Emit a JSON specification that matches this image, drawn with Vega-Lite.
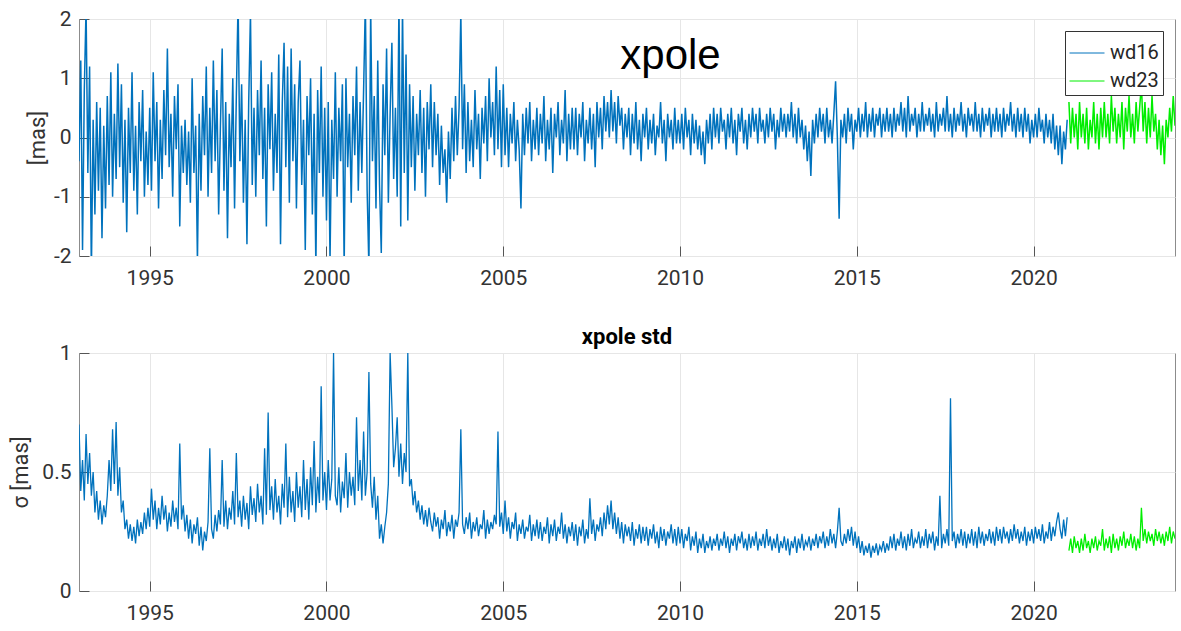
{
"$schema": "https://vega.github.io/schema/vega-lite/v6.json",
"background": "white",
"padding": {"left": 8, "top": 7, "right": 5, "bottom": 5},
"spacing": 36,
"config": {
  "font": "Roboto",
  "view": {"stroke": "#8c8c8c", "strokeWidth": 1},
  "axis": {"labelFont": "Roboto", "labelFontSize": 21, "labelColor": "#333333", "titleFont": "Roboto", "titleFontSize": 22, "titleFontWeight": "normal", "titleColor": "#333333", "grid": true, "gridColor": "#e6e6e6", "domain": false, "ticks": true, "tickColor": "#555555", "tickSize": -10, "labelPadding": 18},
  "axisX": {"labelPadding": 21}
},
"data": {"values": [
{"t":1993.00,"x":-0.4,"s":0.70,"m":"wd16"},{"t":1993.05,"x":1.3,"s":0.42,"m":"wd16"},{"t":1993.10,"x":-1.9,"s":0.55,"m":"wd16"},{"t":1993.15,"x":0.8,"s":0.38,"m":"wd16"},{"t":1993.20,"x":2.2,"s":0.66,"m":"wd16"},{"t":1993.25,"x":-0.6,"s":0.45,"m":"wd16"},{"t":1993.30,"x":1.2,"s":0.58,"m":"wd16"},{"t":1993.35,"x":-2.3,"s":0.40,"m":"wd16"},{"t":1993.40,"x":0.3,"s":0.50,"m":"wd16"},{"t":1993.45,"x":-1.3,"s":0.33,"m":"wd16"},{"t":1993.50,"x":0.6,"s":0.42,"m":"wd16"},{"t":1993.55,"x":-0.9,"s":0.30,"m":"wd16"},{"t":1993.60,"x":0.5,"s":0.38,"m":"wd16"},{"t":1993.65,"x":-1.7,"s":0.28,"m":"wd16"},{"t":1993.70,"x":0.2,"s":0.36,"m":"wd16"},{"t":1993.75,"x":-1.2,"s":0.31,"m":"wd16"},{"t":1993.80,"x":0.7,"s":0.40,"m":"wd16"},{"t":1993.85,"x":-0.8,"s":0.55,"m":"wd16"},{"t":1993.90,"x":1.1,"s":0.42,"m":"wd16"},{"t":1993.95,"x":-1.0,"s":0.68,"m":"wd16"},
{"t":1994.00,"x":0.4,"s":0.45,"m":"wd16"},{"t":1994.05,"x":-0.7,"s":0.71,"m":"wd16"},{"t":1994.10,"x":1.25,"s":0.40,"m":"wd16"},{"t":1994.15,"x":-0.5,"s":0.52,"m":"wd16"},{"t":1994.20,"x":0.9,"s":0.33,"m":"wd16"},{"t":1994.25,"x":-1.1,"s":0.38,"m":"wd16"},{"t":1994.30,"x":0.3,"s":0.26,"m":"wd16"},{"t":1994.35,"x":-1.6,"s":0.30,"m":"wd16"},{"t":1994.40,"x":0.5,"s":0.22,"m":"wd16"},{"t":1994.45,"x":-0.6,"s":0.28,"m":"wd16"},{"t":1994.50,"x":1.1,"s":0.21,"m":"wd16"},{"t":1994.55,"x":-0.9,"s":0.27,"m":"wd16"},{"t":1994.60,"x":0.2,"s":0.20,"m":"wd16"},{"t":1994.65,"x":-1.3,"s":0.30,"m":"wd16"},{"t":1994.70,"x":0.6,"s":0.23,"m":"wd16"},{"t":1994.75,"x":-0.4,"s":0.29,"m":"wd16"},{"t":1994.80,"x":0.8,"s":0.24,"m":"wd16"},{"t":1994.85,"x":-1.0,"s":0.33,"m":"wd16"},{"t":1994.90,"x":0.1,"s":0.26,"m":"wd16"},{"t":1994.95,"x":-0.8,"s":0.35,"m":"wd16"},
{"t":1995.00,"x":0.5,"s":0.27,"m":"wd16"},{"t":1995.05,"x":-0.9,"s":0.43,"m":"wd16"},{"t":1995.10,"x":1.1,"s":0.30,"m":"wd16"},{"t":1995.15,"x":-0.4,"s":0.38,"m":"wd16"},{"t":1995.20,"x":0.6,"s":0.26,"m":"wd16"},{"t":1995.25,"x":-1.2,"s":0.35,"m":"wd16"},{"t":1995.30,"x":0.3,"s":0.28,"m":"wd16"},{"t":1995.35,"x":-0.7,"s":0.40,"m":"wd16"},{"t":1995.40,"x":0.8,"s":0.30,"m":"wd16"},{"t":1995.45,"x":-0.3,"s":0.36,"m":"wd16"},{"t":1995.50,"x":1.5,"s":0.25,"m":"wd16"},{"t":1995.55,"x":-0.5,"s":0.33,"m":"wd16"},{"t":1995.60,"x":0.4,"s":0.27,"m":"wd16"},{"t":1995.65,"x":-1.0,"s":0.38,"m":"wd16"},{"t":1995.70,"x":0.7,"s":0.29,"m":"wd16"},{"t":1995.75,"x":-0.2,"s":0.35,"m":"wd16"},{"t":1995.80,"x":0.9,"s":0.26,"m":"wd16"},{"t":1995.85,"x":-1.5,"s":0.62,"m":"wd16"},{"t":1995.90,"x":0.2,"s":0.30,"m":"wd16"},{"t":1995.95,"x":-0.6,"s":0.36,"m":"wd16"},
{"t":1996.00,"x":0.3,"s":0.25,"m":"wd16"},{"t":1996.05,"x":-0.8,"s":0.32,"m":"wd16"},{"t":1996.10,"x":0.1,"s":0.22,"m":"wd16"},{"t":1996.15,"x":-1.1,"s":0.30,"m":"wd16"},{"t":1996.20,"x":1.0,"s":0.20,"m":"wd16"},{"t":1996.25,"x":-0.6,"s":0.28,"m":"wd16"},{"t":1996.30,"x":0.2,"s":0.24,"m":"wd16"},{"t":1996.35,"x":-2.1,"s":0.31,"m":"wd16"},{"t":1996.40,"x":0.4,"s":0.19,"m":"wd16"},{"t":1996.45,"x":-0.9,"s":0.27,"m":"wd16"},{"t":1996.50,"x":0.7,"s":0.17,"m":"wd16"},{"t":1996.55,"x":-0.3,"s":0.25,"m":"wd16"},{"t":1996.60,"x":1.2,"s":0.21,"m":"wd16"},{"t":1996.65,"x":-1.0,"s":0.29,"m":"wd16"},{"t":1996.70,"x":0.5,"s":0.60,"m":"wd16"},{"t":1996.75,"x":-0.6,"s":0.26,"m":"wd16"},{"t":1996.80,"x":1.3,"s":0.22,"m":"wd16"},{"t":1996.85,"x":-0.4,"s":0.32,"m":"wd16"},{"t":1996.90,"x":0.8,"s":0.25,"m":"wd16"},{"t":1996.95,"x":-1.3,"s":0.34,"m":"wd16"},
{"t":1997.00,"x":0.2,"s":0.28,"m":"wd16"},{"t":1997.05,"x":1.5,"s":0.55,"m":"wd16"},{"t":1997.10,"x":-0.9,"s":0.27,"m":"wd16"},{"t":1997.15,"x":0.6,"s":0.38,"m":"wd16"},{"t":1997.20,"x":-1.7,"s":0.26,"m":"wd16"},{"t":1997.25,"x":0.4,"s":0.35,"m":"wd16"},{"t":1997.30,"x":-0.5,"s":0.30,"m":"wd16"},{"t":1997.35,"x":1.0,"s":0.42,"m":"wd16"},{"t":1997.40,"x":-1.2,"s":0.28,"m":"wd16"},{"t":1997.45,"x":0.7,"s":0.58,"m":"wd16"},{"t":1997.50,"x":2.3,"s":0.31,"m":"wd16"},{"t":1997.55,"x":-0.4,"s":0.38,"m":"wd16"},{"t":1997.60,"x":0.9,"s":0.27,"m":"wd16"},{"t":1997.65,"x":-1.1,"s":0.40,"m":"wd16"},{"t":1997.70,"x":0.3,"s":0.30,"m":"wd16"},{"t":1997.75,"x":-1.8,"s":0.37,"m":"wd16"},{"t":1997.80,"x":0.6,"s":0.26,"m":"wd16"},{"t":1997.85,"x":2.1,"s":0.44,"m":"wd16"},{"t":1997.90,"x":-0.8,"s":0.32,"m":"wd16"},{"t":1997.95,"x":0.5,"s":0.39,"m":"wd16"},
{"t":1998.00,"x":-1.0,"s":0.29,"m":"wd16"},{"t":1998.05,"x":0.8,"s":0.45,"m":"wd16"},{"t":1998.10,"x":-0.3,"s":0.33,"m":"wd16"},{"t":1998.15,"x":1.3,"s":0.40,"m":"wd16"},{"t":1998.20,"x":-0.7,"s":0.28,"m":"wd16"},{"t":1998.25,"x":0.5,"s":0.60,"m":"wd16"},{"t":1998.30,"x":-1.5,"s":0.32,"m":"wd16"},{"t":1998.35,"x":0.9,"s":0.75,"m":"wd16"},{"t":1998.40,"x":-0.2,"s":0.34,"m":"wd16"},{"t":1998.45,"x":1.1,"s":0.44,"m":"wd16"},{"t":1998.50,"x":-0.9,"s":0.30,"m":"wd16"},{"t":1998.55,"x":0.4,"s":0.47,"m":"wd16"},{"t":1998.60,"x":-0.6,"s":0.33,"m":"wd16"},{"t":1998.65,"x":1.4,"s":0.40,"m":"wd16"},{"t":1998.70,"x":-1.8,"s":0.28,"m":"wd16"},{"t":1998.75,"x":0.6,"s":0.45,"m":"wd16"},{"t":1998.80,"x":1.6,"s":0.35,"m":"wd16"},{"t":1998.85,"x":-0.5,"s":0.62,"m":"wd16"},{"t":1998.90,"x":1.2,"s":0.31,"m":"wd16"},{"t":1998.95,"x":-1.1,"s":0.48,"m":"wd16"},
{"t":1999.00,"x":1.5,"s":0.33,"m":"wd16"},{"t":1999.05,"x":-0.4,"s":0.42,"m":"wd16"},{"t":1999.10,"x":0.9,"s":0.29,"m":"wd16"},{"t":1999.15,"x":-1.2,"s":0.50,"m":"wd16"},{"t":1999.20,"x":0.6,"s":0.35,"m":"wd16"},{"t":1999.25,"x":1.3,"s":0.44,"m":"wd16"},{"t":1999.30,"x":-0.8,"s":0.31,"m":"wd16"},{"t":1999.35,"x":0.3,"s":0.55,"m":"wd16"},{"t":1999.40,"x":-1.9,"s":0.34,"m":"wd16"},{"t":1999.45,"x":0.7,"s":0.47,"m":"wd16"},{"t":1999.50,"x":-0.3,"s":0.30,"m":"wd16"},{"t":1999.55,"x":1.0,"s":0.52,"m":"wd16"},{"t":1999.60,"x":-1.3,"s":0.36,"m":"wd16"},{"t":1999.65,"x":0.4,"s":0.63,"m":"wd16"},{"t":1999.70,"x":-2.2,"s":0.33,"m":"wd16"},{"t":1999.75,"x":0.8,"s":0.48,"m":"wd16"},{"t":1999.80,"x":-0.6,"s":0.37,"m":"wd16"},{"t":1999.85,"x":1.2,"s":0.86,"m":"wd16"},{"t":1999.90,"x":-1.0,"s":0.38,"m":"wd16"},{"t":1999.95,"x":0.5,"s":0.50,"m":"wd16"},
{"t":2000.00,"x":-1.4,"s":0.34,"m":"wd16"},{"t":2000.05,"x":0.6,"s":0.55,"m":"wd16"},{"t":2000.10,"x":-2.1,"s":0.38,"m":"wd16"},{"t":2000.15,"x":0.3,"s":0.47,"m":"wd16"},{"t":2000.20,"x":-0.7,"s":1.0,"m":"wd16"},{"t":2000.25,"x":1.1,"s":0.40,"m":"wd16"},{"t":2000.30,"x":-1.0,"s":0.36,"m":"wd16"},{"t":2000.35,"x":0.5,"s":0.52,"m":"wd16"},{"t":2000.40,"x":-0.4,"s":0.33,"m":"wd16"},{"t":2000.45,"x":0.9,"s":0.46,"m":"wd16"},{"t":2000.50,"x":-2.2,"s":0.39,"m":"wd16"},{"t":2000.55,"x":1.0,"s":0.58,"m":"wd16"},{"t":2000.60,"x":-0.5,"s":0.35,"m":"wd16"},{"t":2000.65,"x":0.4,"s":0.50,"m":"wd16"},{"t":2000.70,"x":-1.1,"s":0.40,"m":"wd16"},{"t":2000.75,"x":0.7,"s":0.48,"m":"wd16"},{"t":2000.80,"x":-0.3,"s":0.36,"m":"wd16"},{"t":2000.85,"x":1.2,"s":0.73,"m":"wd16"},{"t":2000.90,"x":-0.9,"s":0.42,"m":"wd16"},{"t":2000.95,"x":0.6,"s":0.55,"m":"wd16"},
{"t":2001.00,"x":-0.6,"s":0.38,"m":"wd16"},{"t":2001.05,"x":0.8,"s":0.67,"m":"wd16"},{"t":2001.10,"x":2.3,"s":0.40,"m":"wd16"},{"t":2001.15,"x":-0.9,"s":0.50,"m":"wd16"},{"t":2001.20,"x":-2.2,"s":0.92,"m":"wd16"},{"t":2001.25,"x":2.2,"s":0.45,"m":"wd16"},{"t":2001.30,"x":-0.4,"s":0.35,"m":"wd16"},{"t":2001.35,"x":0.7,"s":0.48,"m":"wd16"},{"t":2001.40,"x":-1.2,"s":0.30,"m":"wd16"},{"t":2001.45,"x":1.3,"s":0.40,"m":"wd16"},{"t":2001.50,"x":-0.8,"s":0.22,"m":"wd16"},{"t":2001.55,"x":-1.95,"s":0.28,"m":"wd16"},{"t":2001.60,"x":0.9,"s":0.20,"m":"wd16"},{"t":2001.65,"x":-0.3,"s":0.27,"m":"wd16"},{"t":2001.70,"x":1.5,"s":0.33,"m":"wd16"},{"t":2001.75,"x":-1.1,"s":0.45,"m":"wd16"},{"t":2001.80,"x":0.4,"s":1.0,"m":"wd16"},{"t":2001.85,"x":1.6,"s":0.78,"m":"wd16"},{"t":2001.90,"x":-0.7,"s":0.52,"m":"wd16"},{"t":2001.95,"x":0.5,"s":0.60,"m":"wd16"},
{"t":2002.00,"x":-1.0,"s":0.73,"m":"wd16"},{"t":2002.05,"x":2.3,"s":0.48,"m":"wd16"},{"t":2002.10,"x":-1.5,"s":0.62,"m":"wd16"},{"t":2002.15,"x":2.2,"s":0.45,"m":"wd16"},{"t":2002.20,"x":-0.6,"s":0.58,"m":"wd16"},{"t":2002.25,"x":1.4,"s":0.50,"m":"wd16"},{"t":2002.30,"x":-1.4,"s":1.0,"m":"wd16"},{"t":2002.35,"x":0.9,"s":0.44,"m":"wd16"},{"t":2002.40,"x":-0.5,"s":0.47,"m":"wd16"},{"t":2002.45,"x":0.7,"s":0.36,"m":"wd16"},{"t":2002.50,"x":-0.9,"s":0.42,"m":"wd16"},{"t":2002.55,"x":0.4,"s":0.33,"m":"wd16"},{"t":2002.60,"x":-0.3,"s":0.38,"m":"wd16"},{"t":2002.65,"x":0.8,"s":0.30,"m":"wd16"},{"t":2002.70,"x":-0.6,"s":0.36,"m":"wd16"},{"t":2002.75,"x":0.5,"s":0.28,"m":"wd16"},{"t":2002.80,"x":-1.0,"s":0.34,"m":"wd16"},{"t":2002.85,"x":0.6,"s":0.27,"m":"wd16"},{"t":2002.90,"x":-0.2,"s":0.35,"m":"wd16"},{"t":2002.95,"x":0.9,"s":0.29,"m":"wd16"},
{"t":2003.00,"x":-0.5,"s":0.25,"m":"wd16"},{"t":2003.05,"x":0.6,"s":0.33,"m":"wd16"},{"t":2003.10,"x":-0.3,"s":0.27,"m":"wd16"},{"t":2003.15,"x":0.4,"s":0.31,"m":"wd16"},{"t":2003.20,"x":-0.8,"s":0.22,"m":"wd16"},{"t":2003.25,"x":0.2,"s":0.30,"m":"wd16"},{"t":2003.30,"x":-0.6,"s":0.26,"m":"wd16"},{"t":2003.35,"x":-0.2,"s":0.34,"m":"wd16"},{"t":2003.40,"x":-1.1,"s":0.23,"m":"wd16"},{"t":2003.45,"x":0.1,"s":0.29,"m":"wd16"},{"t":2003.50,"x":-0.7,"s":0.25,"m":"wd16"},{"t":2003.55,"x":0.5,"s":0.32,"m":"wd16"},{"t":2003.60,"x":-0.4,"s":0.22,"m":"wd16"},{"t":2003.65,"x":0.7,"s":0.30,"m":"wd16"},{"t":2003.70,"x":-0.3,"s":0.27,"m":"wd16"},{"t":2003.75,"x":0.5,"s":0.33,"m":"wd16"},{"t":2003.80,"x":2.1,"s":0.68,"m":"wd16"},{"t":2003.85,"x":-0.2,"s":0.28,"m":"wd16"},{"t":2003.90,"x":0.9,"s":0.24,"m":"wd16"},{"t":2003.95,"x":-0.6,"s":0.31,"m":"wd16"},
{"t":2004.00,"x":0.6,"s":0.26,"m":"wd16"},{"t":2004.05,"x":-0.4,"s":0.33,"m":"wd16"},{"t":2004.10,"x":0.3,"s":0.22,"m":"wd16"},{"t":2004.15,"x":-0.5,"s":0.29,"m":"wd16"},{"t":2004.20,"x":0.8,"s":0.25,"m":"wd16"},{"t":2004.25,"x":-0.2,"s":0.31,"m":"wd16"},{"t":2004.30,"x":0.4,"s":0.23,"m":"wd16"},{"t":2004.35,"x":-0.7,"s":0.28,"m":"wd16"},{"t":2004.40,"x":0.5,"s":0.26,"m":"wd16"},{"t":2004.45,"x":-0.1,"s":0.34,"m":"wd16"},{"t":2004.50,"x":0.7,"s":0.22,"m":"wd16"},{"t":2004.55,"x":-0.4,"s":0.30,"m":"wd16"},{"t":2004.60,"x":1.0,"s":0.24,"m":"wd16"},{"t":2004.65,"x":0.0,"s":0.29,"m":"wd16"},{"t":2004.70,"x":0.6,"s":0.26,"m":"wd16"},{"t":2004.75,"x":-0.3,"s":0.32,"m":"wd16"},{"t":2004.80,"x":1.2,"s":0.28,"m":"wd16"},{"t":2004.85,"x":-0.2,"s":0.67,"m":"wd16"},{"t":2004.90,"x":0.8,"s":0.27,"m":"wd16"},{"t":2004.95,"x":-0.5,"s":0.33,"m":"wd16"},
{"t":2005.00,"x":0.9,"s":0.24,"m":"wd16"},{"t":2005.05,"x":-0.3,"s":0.38,"m":"wd16"},{"t":2005.10,"x":0.5,"s":0.25,"m":"wd16"},{"t":2005.15,"x":-0.5,"s":0.31,"m":"wd16"},{"t":2005.20,"x":0.4,"s":0.22,"m":"wd16"},{"t":2005.25,"x":-0.1,"s":0.29,"m":"wd16"},{"t":2005.30,"x":0.6,"s":0.26,"m":"wd16"},{"t":2005.35,"x":-0.4,"s":0.33,"m":"wd16"},{"t":2005.40,"x":0.3,"s":0.21,"m":"wd16"},{"t":2005.45,"x":-0.2,"s":0.28,"m":"wd16"},{"t":2005.50,"x":-1.2,"s":0.24,"m":"wd16"},{"t":2005.55,"x":0.4,"s":0.30,"m":"wd16"},{"t":2005.60,"x":-0.3,"s":0.22,"m":"wd16"},{"t":2005.65,"x":0.5,"s":0.27,"m":"wd16"},{"t":2005.70,"x":-0.1,"s":0.25,"m":"wd16"},{"t":2005.75,"x":0.6,"s":0.32,"m":"wd16"},{"t":2005.80,"x":-0.4,"s":0.21,"m":"wd16"},{"t":2005.85,"x":0.3,"s":0.28,"m":"wd16"},{"t":2005.90,"x":-0.2,"s":0.23,"m":"wd16"},{"t":2005.95,"x":0.5,"s":0.30,"m":"wd16"},
{"t":2006.00,"x":-0.3,"s":0.22,"m":"wd16"},{"t":2006.05,"x":0.4,"s":0.29,"m":"wd16"},{"t":2006.10,"x":-0.1,"s":0.21,"m":"wd16"},{"t":2006.15,"x":0.7,"s":0.27,"m":"wd16"},{"t":2006.20,"x":-0.4,"s":0.24,"m":"wd16"},{"t":2006.25,"x":0.3,"s":0.31,"m":"wd16"},{"t":2006.30,"x":-0.2,"s":0.20,"m":"wd16"},{"t":2006.35,"x":0.5,"s":0.28,"m":"wd16"},{"t":2006.40,"x":-0.6,"s":0.23,"m":"wd16"},{"t":2006.45,"x":0.4,"s":0.30,"m":"wd16"},{"t":2006.50,"x":0.0,"s":0.21,"m":"wd16"},{"t":2006.55,"x":0.6,"s":0.27,"m":"wd16"},{"t":2006.60,"x":-0.3,"s":0.24,"m":"wd16"},{"t":2006.65,"x":0.3,"s":0.33,"m":"wd16"},{"t":2006.70,"x":-0.1,"s":0.22,"m":"wd16"},{"t":2006.75,"x":0.8,"s":0.28,"m":"wd16"},{"t":2006.80,"x":-0.4,"s":0.20,"m":"wd16"},{"t":2006.85,"x":0.4,"s":0.27,"m":"wd16"},{"t":2006.90,"x":-0.2,"s":0.23,"m":"wd16"},{"t":2006.95,"x":0.5,"s":0.29,"m":"wd16"},
{"t":2007.00,"x":-0.2,"s":0.21,"m":"wd16"},{"t":2007.05,"x":0.5,"s":0.28,"m":"wd16"},{"t":2007.10,"x":-0.3,"s":0.19,"m":"wd16"},{"t":2007.15,"x":0.4,"s":0.27,"m":"wd16"},{"t":2007.20,"x":0.0,"s":0.23,"m":"wd16"},{"t":2007.25,"x":0.6,"s":0.30,"m":"wd16"},{"t":2007.30,"x":-0.4,"s":0.20,"m":"wd16"},{"t":2007.35,"x":0.3,"s":0.26,"m":"wd16"},{"t":2007.40,"x":-0.1,"s":0.22,"m":"wd16"},{"t":2007.45,"x":0.5,"s":0.39,"m":"wd16"},{"t":2007.50,"x":-0.2,"s":0.24,"m":"wd16"},{"t":2007.55,"x":0.4,"s":0.30,"m":"wd16"},{"t":2007.60,"x":-0.5,"s":0.21,"m":"wd16"},{"t":2007.65,"x":0.6,"s":0.28,"m":"wd16"},{"t":2007.70,"x":0.0,"s":0.25,"m":"wd16"},{"t":2007.75,"x":0.5,"s":0.31,"m":"wd16"},{"t":2007.80,"x":-0.2,"s":0.23,"m":"wd16"},{"t":2007.85,"x":0.7,"s":0.33,"m":"wd16"},{"t":2007.90,"x":0.1,"s":0.26,"m":"wd16"},{"t":2007.95,"x":0.6,"s":0.36,"m":"wd16"},
{"t":2008.00,"x":0.0,"s":0.28,"m":"wd16"},{"t":2008.05,"x":0.8,"s":0.38,"m":"wd16"},{"t":2008.10,"x":0.1,"s":0.26,"m":"wd16"},{"t":2008.15,"x":0.6,"s":0.33,"m":"wd16"},{"t":2008.20,"x":-0.1,"s":0.24,"m":"wd16"},{"t":2008.25,"x":0.7,"s":0.31,"m":"wd16"},{"t":2008.30,"x":0.2,"s":0.22,"m":"wd16"},{"t":2008.35,"x":0.5,"s":0.29,"m":"wd16"},{"t":2008.40,"x":-0.2,"s":0.20,"m":"wd16"},{"t":2008.45,"x":0.4,"s":0.28,"m":"wd16"},{"t":2008.50,"x":0.0,"s":0.23,"m":"wd16"},{"t":2008.55,"x":0.5,"s":0.27,"m":"wd16"},{"t":2008.60,"x":-0.3,"s":0.21,"m":"wd16"},{"t":2008.65,"x":0.4,"s":0.29,"m":"wd16"},{"t":2008.70,"x":-0.1,"s":0.19,"m":"wd16"},{"t":2008.75,"x":0.6,"s":0.26,"m":"wd16"},{"t":2008.80,"x":-0.2,"s":0.22,"m":"wd16"},{"t":2008.85,"x":0.3,"s":0.28,"m":"wd16"},{"t":2008.90,"x":-0.4,"s":0.20,"m":"wd16"},{"t":2008.95,"x":0.4,"s":0.27,"m":"wd16"},
{"t":2009.00,"x":0.0,"s":0.21,"m":"wd16"},{"t":2009.05,"x":0.5,"s":0.27,"m":"wd16"},{"t":2009.10,"x":-0.2,"s":0.19,"m":"wd16"},{"t":2009.15,"x":0.3,"s":0.26,"m":"wd16"},{"t":2009.20,"x":-0.1,"s":0.22,"m":"wd16"},{"t":2009.25,"x":0.4,"s":0.28,"m":"wd16"},{"t":2009.30,"x":-0.3,"s":0.20,"m":"wd16"},{"t":2009.35,"x":0.2,"s":0.25,"m":"wd16"},{"t":2009.40,"x":0.0,"s":0.18,"m":"wd16"},{"t":2009.45,"x":0.6,"s":0.27,"m":"wd16"},{"t":2009.50,"x":-0.1,"s":0.21,"m":"wd16"},{"t":2009.55,"x":0.3,"s":0.26,"m":"wd16"},{"t":2009.60,"x":-0.4,"s":0.19,"m":"wd16"},{"t":2009.65,"x":0.4,"s":0.25,"m":"wd16"},{"t":2009.70,"x":0.0,"s":0.22,"m":"wd16"},{"t":2009.75,"x":0.3,"s":0.28,"m":"wd16"},{"t":2009.80,"x":-0.2,"s":0.20,"m":"wd16"},{"t":2009.85,"x":0.5,"s":0.26,"m":"wd16"},{"t":2009.90,"x":-0.1,"s":0.19,"m":"wd16"},{"t":2009.95,"x":0.3,"s":0.27,"m":"wd16"},
{"t":2010.00,"x":-0.1,"s":0.20,"m":"wd16"},{"t":2010.05,"x":0.4,"s":0.26,"m":"wd16"},{"t":2010.10,"x":-0.2,"s":0.18,"m":"wd16"},{"t":2010.15,"x":0.5,"s":0.24,"m":"wd16"},{"t":2010.20,"x":0.0,"s":0.21,"m":"wd16"},{"t":2010.25,"x":0.3,"s":0.27,"m":"wd16"},{"t":2010.30,"x":-0.3,"s":0.17,"m":"wd16"},{"t":2010.35,"x":0.4,"s":0.23,"m":"wd16"},{"t":2010.40,"x":-0.1,"s":0.19,"m":"wd16"},{"t":2010.45,"x":0.3,"s":0.25,"m":"wd16"},{"t":2010.50,"x":-0.2,"s":0.16,"m":"wd16"},{"t":2010.55,"x":0.2,"s":0.22,"m":"wd16"},{"t":2010.60,"x":-0.3,"s":0.18,"m":"wd16"},{"t":2010.65,"x":0.1,"s":0.24,"m":"wd16"},{"t":2010.70,"x":-0.45,"s":0.16,"m":"wd16"},{"t":2010.75,"x":0.3,"s":0.21,"m":"wd16"},{"t":2010.80,"x":-0.1,"s":0.18,"m":"wd16"},{"t":2010.85,"x":0.4,"s":0.23,"m":"wd16"},{"t":2010.90,"x":-0.2,"s":0.17,"m":"wd16"},{"t":2010.95,"x":0.5,"s":0.22,"m":"wd16"},
{"t":2011.00,"x":0.0,"s":0.19,"m":"wd16"},{"t":2011.05,"x":0.4,"s":0.24,"m":"wd16"},{"t":2011.10,"x":-0.1,"s":0.17,"m":"wd16"},{"t":2011.15,"x":0.5,"s":0.22,"m":"wd16"},{"t":2011.20,"x":0.1,"s":0.19,"m":"wd16"},{"t":2011.25,"x":0.3,"s":0.25,"m":"wd16"},{"t":2011.30,"x":-0.2,"s":0.18,"m":"wd16"},{"t":2011.35,"x":0.4,"s":0.23,"m":"wd16"},{"t":2011.40,"x":0.0,"s":0.16,"m":"wd16"},{"t":2011.45,"x":0.5,"s":0.22,"m":"wd16"},{"t":2011.50,"x":-0.1,"s":0.19,"m":"wd16"},{"t":2011.55,"x":0.3,"s":0.24,"m":"wd16"},{"t":2011.60,"x":-0.3,"s":0.17,"m":"wd16"},{"t":2011.65,"x":0.4,"s":0.23,"m":"wd16"},{"t":2011.70,"x":0.1,"s":0.20,"m":"wd16"},{"t":2011.75,"x":0.5,"s":0.25,"m":"wd16"},{"t":2011.80,"x":-0.1,"s":0.18,"m":"wd16"},{"t":2011.85,"x":0.3,"s":0.22,"m":"wd16"},{"t":2011.90,"x":-0.2,"s":0.17,"m":"wd16"},{"t":2011.95,"x":0.4,"s":0.24,"m":"wd16"},
{"t":2012.00,"x":0.0,"s":0.18,"m":"wd16"},{"t":2012.05,"x":0.5,"s":0.23,"m":"wd16"},{"t":2012.10,"x":0.1,"s":0.19,"m":"wd16"},{"t":2012.15,"x":0.4,"s":0.25,"m":"wd16"},{"t":2012.20,"x":-0.1,"s":0.17,"m":"wd16"},{"t":2012.25,"x":0.5,"s":0.22,"m":"wd16"},{"t":2012.30,"x":0.1,"s":0.19,"m":"wd16"},{"t":2012.35,"x":0.3,"s":0.24,"m":"wd16"},{"t":2012.40,"x":-0.1,"s":0.18,"m":"wd16"},{"t":2012.45,"x":0.4,"s":0.26,"m":"wd16"},{"t":2012.50,"x":0.0,"s":0.19,"m":"wd16"},{"t":2012.55,"x":0.5,"s":0.23,"m":"wd16"},{"t":2012.60,"x":0.1,"s":0.17,"m":"wd16"},{"t":2012.65,"x":0.4,"s":0.22,"m":"wd16"},{"t":2012.70,"x":-0.2,"s":0.18,"m":"wd16"},{"t":2012.75,"x":0.3,"s":0.24,"m":"wd16"},{"t":2012.80,"x":0.0,"s":0.16,"m":"wd16"},{"t":2012.85,"x":0.5,"s":0.21,"m":"wd16"},{"t":2012.90,"x":0.1,"s":0.18,"m":"wd16"},{"t":2012.95,"x":0.4,"s":0.23,"m":"wd16"},
{"t":2013.00,"x":0.0,"s":0.17,"m":"wd16"},{"t":2013.05,"x":0.4,"s":0.22,"m":"wd16"},{"t":2013.10,"x":0.1,"s":0.15,"m":"wd16"},{"t":2013.15,"x":0.6,"s":0.21,"m":"wd16"},{"t":2013.20,"x":0.0,"s":0.18,"m":"wd16"},{"t":2013.25,"x":0.4,"s":0.23,"m":"wd16"},{"t":2013.30,"x":-0.1,"s":0.16,"m":"wd16"},{"t":2013.35,"x":0.5,"s":0.22,"m":"wd16"},{"t":2013.40,"x":0.0,"s":0.18,"m":"wd16"},{"t":2013.45,"x":0.3,"s":0.24,"m":"wd16"},{"t":2013.50,"x":-0.2,"s":0.17,"m":"wd16"},{"t":2013.55,"x":0.2,"s":0.21,"m":"wd16"},{"t":2013.60,"x":-0.4,"s":0.19,"m":"wd16"},{"t":2013.65,"x":0.1,"s":0.23,"m":"wd16"},{"t":2013.70,"x":-0.65,"s":0.17,"m":"wd16"},{"t":2013.75,"x":0.3,"s":0.22,"m":"wd16"},{"t":2013.80,"x":-0.1,"s":0.19,"m":"wd16"},{"t":2013.85,"x":0.4,"s":0.24,"m":"wd16"},{"t":2013.90,"x":0.0,"s":0.18,"m":"wd16"},{"t":2013.95,"x":0.5,"s":0.23,"m":"wd16"},
{"t":2014.00,"x":0.1,"s":0.20,"m":"wd16"},{"t":2014.05,"x":0.4,"s":0.25,"m":"wd16"},{"t":2014.10,"x":-0.1,"s":0.18,"m":"wd16"},{"t":2014.15,"x":0.5,"s":0.23,"m":"wd16"},{"t":2014.20,"x":0.0,"s":0.19,"m":"wd16"},{"t":2014.25,"x":0.3,"s":0.26,"m":"wd16"},{"t":2014.30,"x":-0.1,"s":0.20,"m":"wd16"},{"t":2014.35,"x":0.4,"s":0.24,"m":"wd16"},{"t":2014.40,"x":0.95,"s":0.18,"m":"wd16"},{"t":2014.45,"x":0.0,"s":0.25,"m":"wd16"},{"t":2014.50,"x":-1.37,"s":0.35,"m":"wd16"},{"t":2014.55,"x":0.3,"s":0.21,"m":"wd16"},{"t":2014.60,"x":0.0,"s":0.19,"m":"wd16"},{"t":2014.65,"x":0.4,"s":0.24,"m":"wd16"},{"t":2014.70,"x":-0.1,"s":0.20,"m":"wd16"},{"t":2014.75,"x":0.5,"s":0.26,"m":"wd16"},{"t":2014.80,"x":0.1,"s":0.21,"m":"wd16"},{"t":2014.85,"x":0.4,"s":0.27,"m":"wd16"},{"t":2014.90,"x":-0.2,"s":0.19,"m":"wd16"},{"t":2014.95,"x":0.3,"s":0.25,"m":"wd16"},
{"t":2015.00,"x":0.1,"s":0.18,"m":"wd16"},{"t":2015.05,"x":0.5,"s":0.23,"m":"wd16"},{"t":2015.10,"x":0.0,"s":0.16,"m":"wd16"},{"t":2015.15,"x":0.4,"s":0.21,"m":"wd16"},{"t":2015.20,"x":0.1,"s":0.15,"m":"wd16"},{"t":2015.25,"x":0.6,"s":0.19,"m":"wd16"},{"t":2015.30,"x":0.0,"s":0.16,"m":"wd16"},{"t":2015.35,"x":0.4,"s":0.20,"m":"wd16"},{"t":2015.40,"x":0.1,"s":0.14,"m":"wd16"},{"t":2015.45,"x":0.5,"s":0.19,"m":"wd16"},{"t":2015.50,"x":0.0,"s":0.16,"m":"wd16"},{"t":2015.55,"x":0.4,"s":0.20,"m":"wd16"},{"t":2015.60,"x":0.2,"s":0.15,"m":"wd16"},{"t":2015.65,"x":0.5,"s":0.19,"m":"wd16"},{"t":2015.70,"x":0.0,"s":0.17,"m":"wd16"},{"t":2015.75,"x":0.4,"s":0.21,"m":"wd16"},{"t":2015.80,"x":0.1,"s":0.16,"m":"wd16"},{"t":2015.85,"x":0.5,"s":0.20,"m":"wd16"},{"t":2015.90,"x":0.1,"s":0.17,"m":"wd16"},{"t":2015.95,"x":0.4,"s":0.23,"m":"wd16"},
{"t":2016.00,"x":0.0,"s":0.18,"m":"wd16"},{"t":2016.05,"x":0.5,"s":0.24,"m":"wd16"},{"t":2016.10,"x":0.1,"s":0.17,"m":"wd16"},{"t":2016.15,"x":0.4,"s":0.22,"m":"wd16"},{"t":2016.20,"x":0.2,"s":0.19,"m":"wd16"},{"t":2016.25,"x":0.6,"s":0.25,"m":"wd16"},{"t":2016.30,"x":0.1,"s":0.18,"m":"wd16"},{"t":2016.35,"x":0.5,"s":0.23,"m":"wd16"},{"t":2016.40,"x":0.0,"s":0.17,"m":"wd16"},{"t":2016.45,"x":0.7,"s":0.24,"m":"wd16"},{"t":2016.50,"x":0.1,"s":0.19,"m":"wd16"},{"t":2016.55,"x":0.4,"s":0.26,"m":"wd16"},{"t":2016.60,"x":0.2,"s":0.18,"m":"wd16"},{"t":2016.65,"x":0.5,"s":0.22,"m":"wd16"},{"t":2016.70,"x":0.0,"s":0.20,"m":"wd16"},{"t":2016.75,"x":0.4,"s":0.25,"m":"wd16"},{"t":2016.80,"x":0.1,"s":0.18,"m":"wd16"},{"t":2016.85,"x":0.6,"s":0.23,"m":"wd16"},{"t":2016.90,"x":0.1,"s":0.19,"m":"wd16"},{"t":2016.95,"x":0.4,"s":0.26,"m":"wd16"},
{"t":2017.00,"x":0.2,"s":0.18,"m":"wd16"},{"t":2017.05,"x":0.5,"s":0.24,"m":"wd16"},{"t":2017.10,"x":0.1,"s":0.20,"m":"wd16"},{"t":2017.15,"x":0.4,"s":0.25,"m":"wd16"},{"t":2017.20,"x":0.0,"s":0.17,"m":"wd16"},{"t":2017.25,"x":0.6,"s":0.23,"m":"wd16"},{"t":2017.30,"x":0.1,"s":0.19,"m":"wd16"},{"t":2017.35,"x":0.4,"s":0.40,"m":"wd16"},{"t":2017.40,"x":0.2,"s":0.18,"m":"wd16"},{"t":2017.45,"x":0.5,"s":0.24,"m":"wd16"},{"t":2017.50,"x":0.1,"s":0.20,"m":"wd16"},{"t":2017.55,"x":0.7,"s":0.26,"m":"wd16"},{"t":2017.60,"x":0.1,"s":0.19,"m":"wd16"},{"t":2017.65,"x":0.4,"s":0.81,"m":"wd16"},{"t":2017.70,"x":0.0,"s":0.21,"m":"wd16"},{"t":2017.75,"x":0.5,"s":0.25,"m":"wd16"},{"t":2017.80,"x":0.1,"s":0.18,"m":"wd16"},{"t":2017.85,"x":0.4,"s":0.24,"m":"wd16"},{"t":2017.90,"x":0.2,"s":0.20,"m":"wd16"},{"t":2017.95,"x":0.6,"s":0.26,"m":"wd16"},
{"t":2018.00,"x":0.1,"s":0.19,"m":"wd16"},{"t":2018.05,"x":0.4,"s":0.25,"m":"wd16"},{"t":2018.10,"x":0.0,"s":0.18,"m":"wd16"},{"t":2018.15,"x":0.5,"s":0.24,"m":"wd16"},{"t":2018.20,"x":0.2,"s":0.20,"m":"wd16"},{"t":2018.25,"x":0.4,"s":0.26,"m":"wd16"},{"t":2018.30,"x":0.1,"s":0.19,"m":"wd16"},{"t":2018.35,"x":0.6,"s":0.25,"m":"wd16"},{"t":2018.40,"x":0.1,"s":0.18,"m":"wd16"},{"t":2018.45,"x":0.4,"s":0.27,"m":"wd16"},{"t":2018.50,"x":0.0,"s":0.20,"m":"wd16"},{"t":2018.55,"x":0.5,"s":0.25,"m":"wd16"},{"t":2018.60,"x":0.1,"s":0.19,"m":"wd16"},{"t":2018.65,"x":0.4,"s":0.24,"m":"wd16"},{"t":2018.70,"x":0.2,"s":0.21,"m":"wd16"},{"t":2018.75,"x":0.5,"s":0.26,"m":"wd16"},{"t":2018.80,"x":0.0,"s":0.20,"m":"wd16"},{"t":2018.85,"x":0.4,"s":0.25,"m":"wd16"},{"t":2018.90,"x":0.1,"s":0.19,"m":"wd16"},{"t":2018.95,"x":0.5,"s":0.27,"m":"wd16"},
{"t":2019.00,"x":0.1,"s":0.21,"m":"wd16"},{"t":2019.05,"x":0.4,"s":0.26,"m":"wd16"},{"t":2019.10,"x":0.0,"s":0.20,"m":"wd16"},{"t":2019.15,"x":0.5,"s":0.27,"m":"wd16"},{"t":2019.20,"x":0.1,"s":0.22,"m":"wd16"},{"t":2019.25,"x":0.4,"s":0.25,"m":"wd16"},{"t":2019.30,"x":0.2,"s":0.20,"m":"wd16"},{"t":2019.35,"x":0.6,"s":0.26,"m":"wd16"},{"t":2019.40,"x":0.1,"s":0.21,"m":"wd16"},{"t":2019.45,"x":0.4,"s":0.28,"m":"wd16"},{"t":2019.50,"x":0.0,"s":0.22,"m":"wd16"},{"t":2019.55,"x":0.5,"s":0.26,"m":"wd16"},{"t":2019.60,"x":0.1,"s":0.20,"m":"wd16"},{"t":2019.65,"x":0.4,"s":0.25,"m":"wd16"},{"t":2019.70,"x":0.0,"s":0.21,"m":"wd16"},{"t":2019.75,"x":0.5,"s":0.27,"m":"wd16"},{"t":2019.80,"x":0.1,"s":0.19,"m":"wd16"},{"t":2019.85,"x":0.4,"s":0.25,"m":"wd16"},{"t":2019.90,"x":-0.1,"s":0.21,"m":"wd16"},{"t":2019.95,"x":0.3,"s":0.26,"m":"wd16"},
{"t":2020.00,"x":0.0,"s":0.20,"m":"wd16"},{"t":2020.05,"x":0.4,"s":0.27,"m":"wd16"},{"t":2020.10,"x":0.0,"s":0.22,"m":"wd16"},{"t":2020.15,"x":0.5,"s":0.26,"m":"wd16"},{"t":2020.20,"x":0.1,"s":0.21,"m":"wd16"},{"t":2020.25,"x":0.3,"s":0.28,"m":"wd16"},{"t":2020.30,"x":-0.1,"s":0.20,"m":"wd16"},{"t":2020.35,"x":0.4,"s":0.25,"m":"wd16"},{"t":2020.40,"x":0.0,"s":0.22,"m":"wd16"},{"t":2020.45,"x":0.3,"s":0.29,"m":"wd16"},{"t":2020.50,"x":-0.1,"s":0.21,"m":"wd16"},{"t":2020.55,"x":0.4,"s":0.27,"m":"wd16"},{"t":2020.60,"x":-0.2,"s":0.23,"m":"wd16"},{"t":2020.65,"x":0.2,"s":0.29,"m":"wd16"},{"t":2020.70,"x":-0.3,"s":0.33,"m":"wd16"},{"t":2020.75,"x":0.2,"s":0.26,"m":"wd16"},{"t":2020.80,"x":-0.45,"s":0.22,"m":"wd16"},{"t":2020.85,"x":0.1,"s":0.30,"m":"wd16"},{"t":2020.90,"x":-0.2,"s":0.23,"m":"wd16"},{"t":2020.95,"x":0.3,"s":0.31,"m":"wd16"},
{"t":2021.00,"x":0.6,"s":0.17,"m":"wd23"},{"t":2021.05,"x":-0.1,"s":0.22,"m":"wd23"},{"t":2021.10,"x":0.5,"s":0.16,"m":"wd23"},{"t":2021.15,"x":0.0,"s":0.23,"m":"wd23"},{"t":2021.20,"x":0.4,"s":0.18,"m":"wd23"},{"t":2021.25,"x":-0.2,"s":0.21,"m":"wd23"},{"t":2021.30,"x":0.6,"s":0.16,"m":"wd23"},{"t":2021.35,"x":0.0,"s":0.22,"m":"wd23"},{"t":2021.40,"x":0.4,"s":0.17,"m":"wd23"},{"t":2021.45,"x":-0.1,"s":0.24,"m":"wd23"},{"t":2021.50,"x":0.5,"s":0.18,"m":"wd23"},{"t":2021.55,"x":-0.2,"s":0.21,"m":"wd23"},{"t":2021.60,"x":0.3,"s":0.16,"m":"wd23"},{"t":2021.65,"x":0.0,"s":0.22,"m":"wd23"},{"t":2021.70,"x":0.6,"s":0.18,"m":"wd23"},{"t":2021.75,"x":-0.1,"s":0.23,"m":"wd23"},{"t":2021.80,"x":0.4,"s":0.17,"m":"wd23"},{"t":2021.85,"x":-0.2,"s":0.21,"m":"wd23"},{"t":2021.90,"x":0.5,"s":0.19,"m":"wd23"},{"t":2021.95,"x":0.0,"s":0.26,"m":"wd23"},
{"t":2022.00,"x":0.6,"s":0.17,"m":"wd23"},{"t":2022.05,"x":0.0,"s":0.22,"m":"wd23"},{"t":2022.10,"x":0.4,"s":0.18,"m":"wd23"},{"t":2022.15,"x":-0.1,"s":0.23,"m":"wd23"},{"t":2022.20,"x":0.7,"s":0.16,"m":"wd23"},{"t":2022.25,"x":0.1,"s":0.24,"m":"wd23"},{"t":2022.30,"x":0.5,"s":0.18,"m":"wd23"},{"t":2022.35,"x":-0.1,"s":0.22,"m":"wd23"},{"t":2022.40,"x":0.4,"s":0.17,"m":"wd23"},{"t":2022.45,"x":0.0,"s":0.23,"m":"wd23"},{"t":2022.50,"x":0.6,"s":0.19,"m":"wd23"},{"t":2022.55,"x":-0.2,"s":0.25,"m":"wd23"},{"t":2022.60,"x":0.5,"s":0.18,"m":"wd23"},{"t":2022.65,"x":0.1,"s":0.22,"m":"wd23"},{"t":2022.70,"x":0.7,"s":0.19,"m":"wd23"},{"t":2022.75,"x":0.0,"s":0.24,"m":"wd23"},{"t":2022.80,"x":0.4,"s":0.18,"m":"wd23"},{"t":2022.85,"x":-0.1,"s":0.23,"m":"wd23"},{"t":2022.90,"x":0.6,"s":0.17,"m":"wd23"},{"t":2022.95,"x":0.1,"s":0.22,"m":"wd23"},
{"t":2023.00,"x":0.5,"s":0.18,"m":"wd23"},{"t":2023.05,"x":0.9,"s":0.35,"m":"wd23"},{"t":2023.10,"x":0.1,"s":0.21,"m":"wd23"},{"t":2023.15,"x":0.6,"s":0.26,"m":"wd23"},{"t":2023.20,"x":-0.1,"s":0.20,"m":"wd23"},{"t":2023.25,"x":0.5,"s":0.25,"m":"wd23"},{"t":2023.30,"x":0.0,"s":0.21,"m":"wd23"},{"t":2023.35,"x":0.7,"s":0.24,"m":"wd23"},{"t":2023.40,"x":0.1,"s":0.19,"m":"wd23"},{"t":2023.45,"x":0.4,"s":0.26,"m":"wd23"},{"t":2023.50,"x":-0.2,"s":0.21,"m":"wd23"},{"t":2023.55,"x":0.3,"s":0.25,"m":"wd23"},{"t":2023.60,"x":-0.3,"s":0.20,"m":"wd23"},{"t":2023.65,"x":0.2,"s":0.24,"m":"wd23"},{"t":2023.70,"x":-0.45,"s":0.19,"m":"wd23"},{"t":2023.75,"x":0.3,"s":0.25,"m":"wd23"},{"t":2023.80,"x":0.0,"s":0.21,"m":"wd23"},{"t":2023.85,"x":0.5,"s":0.27,"m":"wd23"},{"t":2023.90,"x":0.1,"s":0.20,"m":"wd23"},{"t":2023.95,"x":0.7,"s":0.25,"m":"wd23"},
{"t":2024.00,"x":0.2,"s":0.22,"m":"wd23"}
]},
"vconcat": [
  {
    "width": 1096, "height": 237,
    "layer": [
      {
        "mark": {"type": "line", "strokeWidth": 1.5, "clip": true},
        "encoding": {
          "x": {"field": "t", "type": "quantitative", "scale": {"domain": [1993, 2024], "nice": false, "zero": false}, "axis": {"title": null, "values": [1995, 2000, 2005, 2010, 2015, 2020], "format": "d"}},
          "y": {"field": "x", "type": "quantitative", "scale": {"domain": [-2, 2], "nice": false}, "axis": {"title": "[mas]", "values": [-2, -1, 0, 1, 2], "labelExpr": "datum.value + ''", "minExtent": 26, "maxExtent": 26, "titlePadding": 4}},
          "color": {"field": "m", "type": "nominal", "scale": {"domain": ["wd16", "wd23"], "range": ["#0072BD", "#00EE00"]}, "legend": {"title": null, "orient": "top-right", "offset": 12, "strokeColor": "#333333", "fillColor": "white", "padding": 4, "symbolType": "stroke", "symbolSize": 1225, "symbolStrokeWidth": 1, "labelFont": "Roboto", "labelFontSize": 20, "labelColor": "#262626", "rowPadding": -9, "labelOffset": 5}}
        }
      },
      {
        "data": {"values": [{"label": "xpole"}]},
        "mark": {"type": "text", "font": "Liberation Sans", "fontSize": 42, "align": "center", "baseline": "alphabetic", "color": "#000000"},
        "encoding": {
          "x": {"datum": 2009.73},
          "y": {"datum": 1.156},
          "text": {"field": "label"}
        }
      }
    ]
  },
  {
    "width": 1096, "height": 238,
    "title": {"text": "xpole std", "font": "Roboto", "fontSize": 22, "fontWeight": "bold", "color": "#000000", "offset": -7},
    "mark": {"type": "line", "strokeWidth": 1.3, "clip": true},
    "encoding": {
      "x": {"field": "t", "type": "quantitative", "scale": {"domain": [1993, 2024], "nice": false, "zero": false}, "axis": {"title": null, "values": [1995, 2000, 2005, 2010, 2015, 2020], "format": "d"}},
      "y": {"field": "s", "type": "quantitative", "scale": {"domain": [0, 1], "nice": false}, "axis": {"title": "σ [mas]", "values": [0, 0.5, 1], "labelExpr": "datum.value + ''", "minExtent": 40, "maxExtent": 40, "titlePadding": 7}},
      "color": {"field": "m", "type": "nominal", "scale": {"domain": ["wd16", "wd23"], "range": ["#0072BD", "#00EE00"]}, "legend": null}
    }
  }
],
"resolve": {"scale": {"color": "independent"}}
}
